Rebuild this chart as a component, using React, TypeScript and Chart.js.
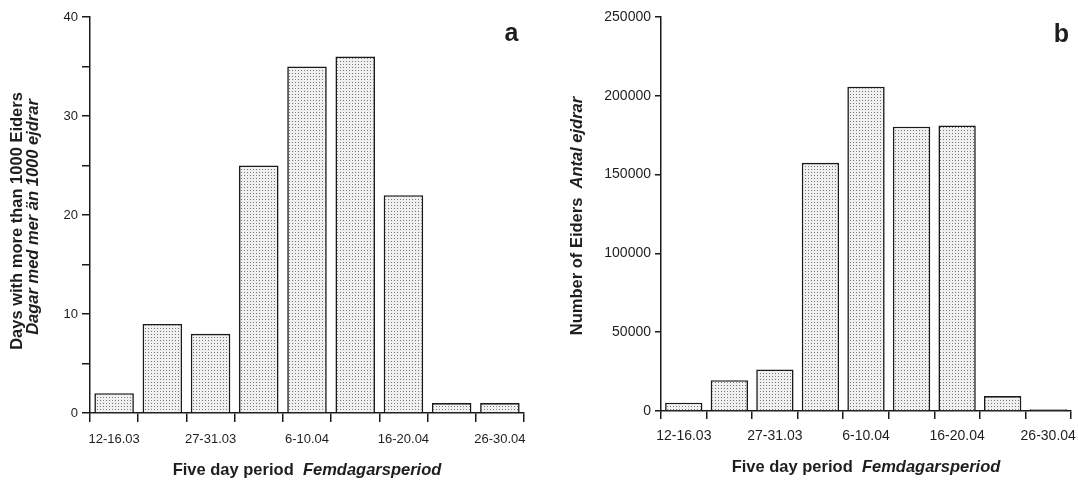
import { useEffect, useRef } from 'react';
import { Chart, registerables } from 'chart.js';

Chart.register(...registerables);

// ---- data ----
const tickLabels = ['12-16.03', '', '27-31.03', '', '6-10.04', '', '16-20.04', '', '26-30.04'];
const daysOver1000 = [2, 9, 8, 25, 35, 36, 22, 1, 1];
const eiderCounts = [5300, 19500, 26400, 157500, 205800, 180400, 181200, 9500, 1100];
const daysAxisRange = [0, 40];
const daysAxisStep = 5;
const daysLabelStep = 10;
const countAxisRange = [0, 250000];
const countAxisStep = 50000;

// ---- text ----
const xTitleRoman = 'Five day period';
const xTitleItalic = 'Femdagarsperiod';
const aTitleLine1 = 'Days with more than 1000 Eiders';
const aTitleLine2 = 'Dagar med mer än 1000 ejdrar';
const bTitleRoman = 'Number of Eiders';
const bTitleItalic = 'Antal ejdrar';
const panelA = 'a';
const panelB = 'b';

const FAMILY = '"Liberation Sans", Arial, Helvetica, sans-serif';
const INK = '#1a1a1a';
const TEXT = '#1e1e1e';

function makePattern(): CanvasPattern | string {
  const c = document.createElement('canvas');
  c.width = 3;
  c.height = 3;
  const g = c.getContext('2d');
  if (!g) return '#e3e3e3';
  g.fillStyle = '#f0f0f0';
  g.fillRect(0, 0, 3, 3);
  g.fillStyle = '#7a7a7a';
  g.fillRect(1, 1, 1, 1);
  return g.createPattern(c, 'repeat') || '#e3e3e3';
}

type Run = { text: string; font: string };

function drawRuns(ctx: CanvasRenderingContext2D, runs: Run[], cx: number, cy: number, rotate: boolean) {
  ctx.save();
  ctx.translate(cx, cy);
  if (rotate) ctx.rotate(-Math.PI / 2);
  const widths = runs.map((r) => {
    ctx.font = r.font;
    return ctx.measureText(r.text).width;
  });
  const total = widths.reduce((a, b) => a + b, 0);
  let x = -total / 2;
  ctx.textBaseline = 'middle';
  ctx.textAlign = 'left';
  ctx.fillStyle = TEXT;
  runs.forEach((r, i) => {
    ctx.font = r.font;
    ctx.fillText(r.text, x, 0);
    x += widths[i];
  });
  ctx.restore();
}

const B = (s: number) => `bold ${s}px ${FAMILY}`;
const BI = (s: number) => `italic bold ${s}px ${FAMILY}`;

function titlesPlugin(draw: (ctx: CanvasRenderingContext2D) => void) {
  return {
    id: 'customTitles',
    afterDraw(chart: any) {
      draw(chart.ctx);
    },
  };
}

function makeConfig(p: {
  values: number[];
  range: number[];
  step: number;
  labelStep: number;
  yWidth: number;
  xHeight: number;
  right: number;
  yTick: number;
  xTick: number;
  xPad: number;
  fontSize: number;
  draw: (ctx: CanvasRenderingContext2D) => void;
}): any {
  return {
    type: 'bar',
    data: {
      labels: tickLabels,
      datasets: [
        {
          data: p.values,
          backgroundColor: makePattern(),
          borderColor: INK,
          borderWidth: 1.6,
          barPercentage: 0.82,
          categoryPercentage: 1,
        },
      ],
    },
    options: {
      responsive: false,
      animation: false,
      layout: { padding: { top: 17, right: p.right, left: 0, bottom: 0 } },
      plugins: { legend: { display: false }, tooltip: { enabled: false } },
      scales: {
        x: {
          offset: true,
          grid: {
            offset: true,
            drawOnChartArea: false,
            drawTicks: true,
            tickLength: p.xTick,
            color: INK,
            lineWidth: 1.5,
          },
          border: { display: true, color: INK, width: 1.5 },
          ticks: {
            autoSkip: false,
            maxRotation: 0,
            minRotation: 0,
            padding: p.xPad,
            color: TEXT,
            font: { family: FAMILY, size: p.fontSize },
          },
          afterFit: (s: any) => {
            s.height = p.xHeight;
            s.paddingLeft = 0;
            s.paddingRight = 0;
          },
        },
        y: {
          min: p.range[0],
          max: p.range[1],
          grid: {
            drawOnChartArea: false,
            drawTicks: true,
            tickLength: p.yTick,
            color: INK,
            lineWidth: 1.5,
          },
          border: { display: true, color: INK, width: 1.5 },
          ticks: {
            stepSize: p.step,
            padding: 4,
            color: TEXT,
            font: { family: FAMILY, size: p.fontSize },
            callback: (v: any) => (Number(v) % p.labelStep === 0 ? String(v) : ''),
          },
          afterFit: (s: any) => {
            s.width = p.yWidth;
            s.paddingTop = 0;
            s.paddingBottom = 0;
          },
        },
      },
    },
    plugins: [titlesPlugin(p.draw)],
  };
}

export default function App() {
  const refA = useRef<HTMLCanvasElement>(null);
  const refB = useRef<HTMLCanvasElement>(null);

  useEffect(() => {
    const charts: Chart[] = [];
    if (refA.current) {
      charts.push(
        new Chart(
          refA.current,
          makeConfig({
            values: daysOver1000,
            range: daysAxisRange,
            step: daysAxisStep,
            labelStep: daysLabelStep,
            yWidth: 90,
            xHeight: 67,
            right: 16,
            yTick: 8,
            xTick: 9,
            xPad: 10,
            fontSize: 13,
            draw: (ctx) => {
              drawRuns(ctx, [{ text: xTitleRoman + '  ', font: B(16.5) }, { text: xTitleItalic, font: BI(16.5) }], 307, 470, false);
              drawRuns(ctx, [{ text: aTitleLine1, font: B(16.5) }], 17, 221, true);
              drawRuns(ctx, [{ text: aTitleLine2, font: BI(16.5) }], 33, 217, true);
              ctx.save();
              ctx.font = B(25);
              ctx.fillStyle = TEXT;
              ctx.textAlign = 'center';
              ctx.textBaseline = 'alphabetic';
              ctx.fillText(panelA, 511.5, 41);
              ctx.restore();
            },
          })
        )
      );
    }
    if (refB.current) {
      charts.push(
        new Chart(
          refB.current,
          makeConfig({
            values: eiderCounts,
            range: countAxisRange,
            step: countAxisStep,
            labelStep: countAxisStep,
            yWidth: 121,
            xHeight: 69,
            right: 7,
            yTick: 6,
            xTick: 8,
            xPad: 9,
            fontSize: 14,
            draw: (ctx) => {
              drawRuns(ctx, [{ text: xTitleRoman + '  ', font: B(16.5) }, { text: xTitleItalic, font: BI(16.5) }], 326, 467, false);
              drawRuns(ctx, [{ text: bTitleRoman + '  ', font: B(16.5) }, { text: bTitleItalic, font: BI(16.5) }], 37, 216, true);
              ctx.save();
              ctx.font = B(25);
              ctx.fillStyle = TEXT;
              ctx.textAlign = 'center';
              ctx.textBaseline = 'alphabetic';
              ctx.fillText(panelB, 521.5, 42);
              ctx.restore();
            },
          })
        )
      );
    }
    return () => charts.forEach((c) => c.destroy());
  }, []);

  return (
    <div style={{ position: 'absolute', left: 0, top: 0, width: 1078, height: 480, background: '#fff', overflow: 'hidden' }}>
      <canvas ref={refA} width={540} height={480} style={{ position: 'absolute', left: 0, top: 0, display: 'block' }} />
      <canvas ref={refB} width={538} height={480} style={{ position: 'absolute', left: 540, top: 0, display: 'block' }} />
    </div>
  );
}
